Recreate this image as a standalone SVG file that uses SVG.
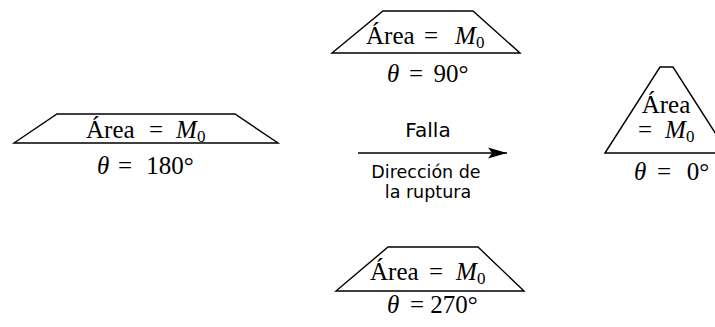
<svg xmlns="http://www.w3.org/2000/svg" width="715" height="327" viewBox="0 0 715 327">
<style>
.shape{fill:none;stroke:#000;stroke-width:1.4;stroke-linejoin:miter}
.m{font-family:"Liberation Serif","Times New Roman",serif;font-size:25px;fill:#000}
.c{text-anchor:middle}
.i{font-style:italic}
.sub{font-size:17px}
.s{font-family:"DejaVu Sans",sans-serif;fill:#000;text-anchor:middle}
</style>
<defs>
<marker id="arr" markerWidth="22" markerHeight="14" refX="20" refY="7" orient="auto" markerUnits="userSpaceOnUse">
<path d="M20,7 L1,1.5 L5,7 L1,12.5 Z" fill="#000"/>
</marker>
</defs>
<g id="node-180">
<polygon class="shape" points="14,143 57,114 235,114 278,143"/>
<text class="m" x="86" y="138">Área</text>
<text class="m c" x="156" y="138">=</text>
<text class="m i" x="176" y="138">M</text>
<text class="m sub" x="197" y="142">0</text>
<text class="m i" x="97" y="174">θ</text>
<text class="m c" x="125" y="174">=</text>
<text class="m c" x="170" y="174">180°</text>
</g>
<g id="node-90">
<polygon class="shape" points="332,53 383,11 473,11 520,53"/>
<text class="m" x="366" y="44">Área</text>
<text class="m c" x="431" y="44">=</text>
<text class="m i" x="455" y="44">M</text>
<text class="m sub" x="476" y="48">0</text>
<text class="m i" x="387" y="82">θ</text>
<text class="m c" x="416" y="82">=</text>
<text class="m c" x="451" y="82">90°</text>
</g>
<g id="node-270">
<polygon class="shape" points="336,291 388,247 478,247 524,291"/>
<text class="m" x="370" y="280">Área</text>
<text class="m c" x="436" y="280">=</text>
<text class="m i" x="456" y="280">M</text>
<text class="m sub" x="477" y="284">0</text>
<text class="m i" x="387" y="313">θ</text>
<text class="m c" x="417" y="313">=</text>
<text class="m c" x="454" y="313">270°</text>
</g>
<g id="node-0">
<polygon class="shape" points="605,153 660,67 673,67 728,153"/>
<text class="m c" x="666" y="113">Área</text>
<text class="m c" x="645" y="138">=</text>
<text class="m i" x="665" y="138">M</text>
<text class="m sub" x="686" y="142">0</text>
<text class="m i" x="634" y="180">θ</text>
<text class="m c" x="664" y="180">=</text>
<text class="m c" x="698" y="180">0°</text>
</g>
<g id="connectors">
<line x1="358" y1="153" x2="507" y2="153" stroke="#000" stroke-width="1.4" marker-end="url(#arr)"/>
<text class="s" x="428" y="137" font-size="20">Falla</text>
<text class="s" x="426" y="178" font-size="17.5">Dirección de</text>
<text class="s" x="428" y="198" font-size="17.5">la ruptura</text>
</g>
</svg>
